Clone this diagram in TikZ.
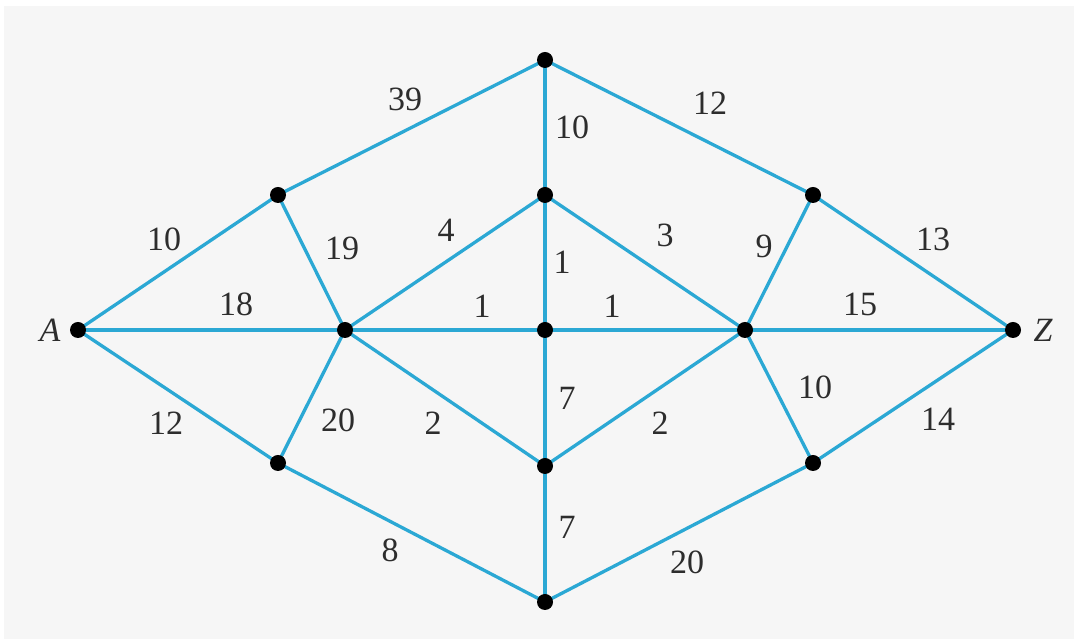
\documentclass[tikz,border=0pt]{standalone}
\usepackage{fontspec}
\setmainfont{Liberation Serif}
\definecolor{edgeblue}{RGB}{43,168,212}
\definecolor{bggray}{RGB}{246,246,246}
\definecolor{txt}{RGB}{45,45,45}
\begin{document}
\begin{tikzpicture}[x=1pt,y=1pt,
  vert/.style={circle,fill=black,inner sep=0pt,minimum size=16pt},
  edge/.style={draw=edgeblue,line width=3.3pt},
  wlabel/.style={text=txt,font=\fontsize{34}{38}\selectfont,inner sep=0pt},
  vlabel/.style={text=txt,font=\fontsize{34}{38}\selectfont\itshape,inner sep=0pt}]
\useasboundingbox (0,0) rectangle (1074,639);
\fill[white] (0,0) rectangle (1074,639);
\fill[bggray] (4,-1) rectangle (1075,633);
% vertices
\coordinate (A) at (78,309);
\coordinate (T) at (545,579);
\coordinate (UL) at (278,444);
\coordinate (C) at (345,309);
\coordinate (M) at (545,444);
\coordinate (O) at (545,309);
\coordinate (R) at (745,309);
\coordinate (UR) at (813,444);
\coordinate (Z) at (1013,309);
\coordinate (LL) at (278,176);
\coordinate (LM) at (545,173);
\coordinate (LR) at (813,176);
\coordinate (B) at (545,37);
% edges
\foreach \a/\b in {A/UL,UL/T,T/M,T/UR,UR/Z,A/C,UL/C,C/M,M/O,M/R,R/UR,C/O,O/R,R/Z,A/LL,LL/C,C/LM,O/LM,LM/R,R/LR,LR/Z,LL/B,LM/B,B/LR}
  \draw[edge] (\a) -- (\b);
% dots
\foreach \v in {A,T,UL,C,M,O,R,UR,Z,LL,LM,LR,B}
  \node[vert] (n\v) at (\v) {};
% vertex labels
\node[vlabel] (lA) at (50,309) {A};
\node[vlabel] (lZ) at (1043,309) {Z};
% weights
\node[wlabel] (w1) at (405,540) {39};
\node[wlabel] (w2) at (164,400) {10};
\node[wlabel] (w3) at (572,512) {10};
\node[wlabel] (w4) at (710,536) {12};
\node[wlabel] (w5) at (933,400) {13};
\node[wlabel] (w6) at (342,391) {19};
\node[wlabel] (w7) at (446,409) {4};
\node[wlabel] (w8) at (562,377) {1};
\node[wlabel] (w9) at (665,404) {3};
\node[wlabel] (w10) at (764,393) {9};
\node[wlabel] (w11) at (236,335) {18};
\node[wlabel] (w12) at (482,333) {1};
\node[wlabel] (w13) at (612,333) {1};
\node[wlabel] (w14) at (860,335) {15};
\node[wlabel] (w15) at (166,216) {12};
\node[wlabel] (w16) at (338,219) {20};
\node[wlabel] (w17) at (433,216) {2};
\node[wlabel] (w18) at (567,241) {7};
\node[wlabel] (w19) at (660,216) {2};
\node[wlabel] (w20) at (815,252) {10};
\node[wlabel] (w21) at (938,220) {14};
\node[wlabel] (w22) at (390,89) {8};
\node[wlabel] (w23) at (567,112) {7};
\node[wlabel] (w24) at (687,77) {20};
\end{tikzpicture}
\end{document}
